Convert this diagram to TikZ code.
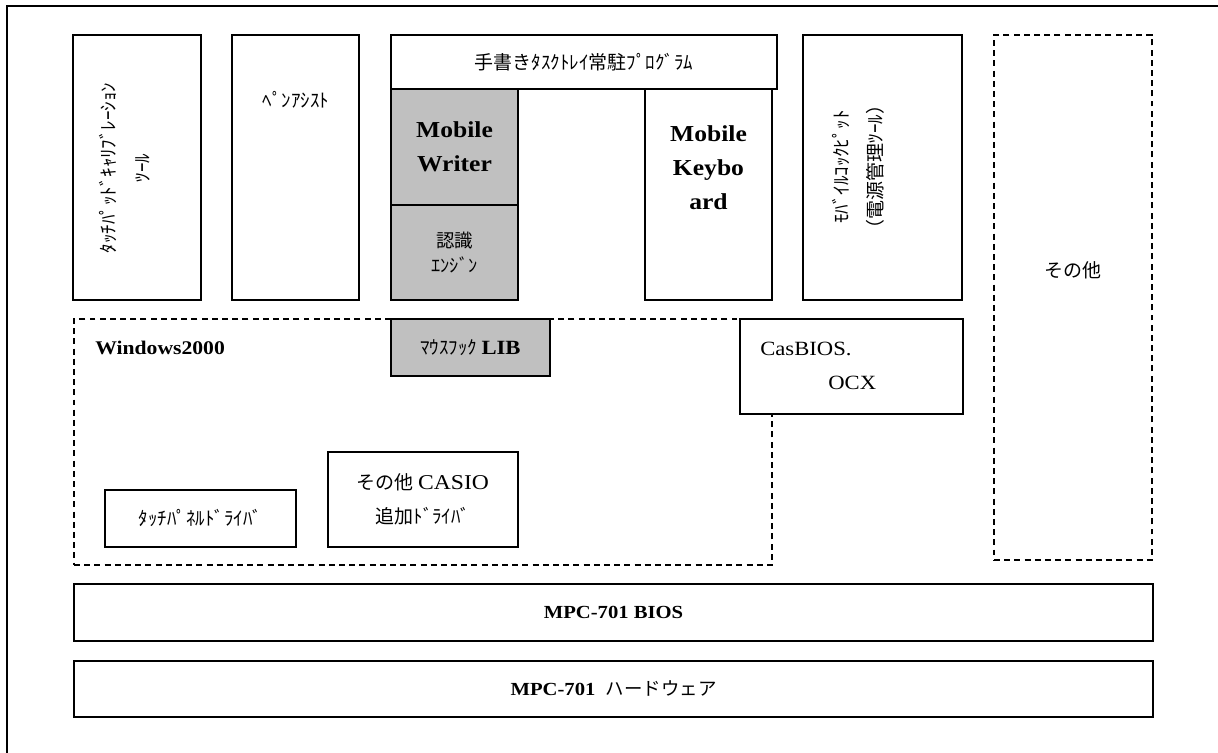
\documentclass[tikz,border=0pt]{standalone}
\usepackage{fontspec}
\setmainfont{Liberation Serif}[FakeStretch=1.12]
\newfontfamily\jp{Noto Sans CJK JP}
\usetikzlibrary{positioning}
\definecolor{boxgray}{RGB}{192,192,192}
\tikzset{
  frame/.style={line width=1pt},
  box/.style={draw, line width=0.8pt, inner sep=0pt, align=center, fill=white, font=\jp\fontsize{10.8}{19.5}\selectfont},
  greybox/.style={box, fill=boxgray},
  dashbox/.style={draw, line width=0.8pt, inner sep=0pt, dash pattern=on 3.4pt off 2.4pt},
  jtext/.style={inner sep=0pt, align=center, font=\jp\fontsize{10.8}{19.5}\selectfont},
  ltext/.style={inner sep=0pt, align=center, font=\bfseries\fontsize{13}{19.3}\selectfont},
  rtext/.style={inner sep=0pt, align=left, font=\fontsize{11.5}{19.5}\selectfont},
  biosbox/.style={box, minimum width=21.58cm, font=\bfseries\fontsize{10.5}{12}\selectfont}
}

\begin{document}
\begin{tikzpicture}[x=0.02cm,y=-0.02cm]
  \useasboundingbox (0,0) rectangle (1218,753);
  \draw[frame] (7,753) -- (7,6) -- (1218,6);

  % applications
  \node[box, minimum width=2.56cm, minimum height=5.3cm] (calib) at (137,167.5) {};
  \node[jtext, rotate=90] (calibtext) at (124.5,168) {ﾀｯﾁﾊﾟｯﾄﾞｷｬﾘﾌﾞﾚｰｼｮﾝ\\ﾂｰﾙ};
  \node[box, minimum width=2.54cm, minimum height=5.3cm] (pen) at (295.5,167.5) {};
  \node[jtext] (pentext) at (296,100) {ﾍﾟﾝｱｼｽﾄ};
  \node[box, minimum width=7.72cm, minimum height=1.08cm] (tray) at (584,62) {手書きﾀｽｸﾄﾚｲ常駐ﾌﾟﾛｸﾞﾗﾑ};
  \node[greybox, minimum width=2.54cm, minimum height=2.32cm, font=\bfseries\fontsize{13}{19.3}\selectfont] (writer) at (454.5,147) {Mobile\\Writer};
  \node[greybox, minimum width=2.54cm, minimum height=1.9cm, font=\jp\fontsize{10.5}{14}\selectfont] (engine) at (454.5,252.5) {認識\\ｴﾝｼﾞﾝ};
  \node[box, minimum width=2.54cm, minimum height=4.22cm] (keyboard) at (708.5,194.5) {};
  \node[ltext] (kbtext) at (708.5,168) {Mobile\\Keybo\\ard};
  \node[box, minimum width=3.18cm, minimum height=5.3cm] (cockpit) at (882.5,167.5) {};
  \node[jtext, rotate=90] (cockpittext) at (858,167) {ﾓﾊﾞｲﾙｺｯｸﾋﾟｯﾄ\\（電源管理ﾂｰﾙ）};
  \node[dashbox, minimum width=3.16cm, minimum height=10.5cm] (other) at (1073,297.5) {};
  \node[jtext] (othertext) at (1073,270) {その他};

  % Windows2000
  \node[dashbox, minimum width=13.96cm, minimum height=4.92cm] (win) at (423,442) {};
  \node[ltext, anchor=west, font=\bfseries\fontsize{11}{13}\selectfont] (wintext) at (95,348) {Windows2000};
  \node[greybox, minimum width=3.18cm, minimum height=1.14cm] (hook) at (470.5,347.5) {ﾏｳｽﾌｯｸ {\rmfamily\bfseries\fontsize{11.5}{12}\selectfont LIB}};
  \node[box, minimum width=4.46cm, minimum height=1.9cm] (casbios) at (851.5,366.5) {};
  \node[rtext, anchor=west] (casbiostext) at (760,366) {CasBIOS.\\\hspace*{1.36cm}OCX};
  \node[box, minimum width=3.82cm, minimum height=1.14cm] (touch) at (200.5,518.5) {ﾀｯﾁﾊﾟﾈﾙﾄﾞﾗｲﾊﾞ};
  \node[box, minimum width=3.8cm, minimum height=1.9cm] (casio) at (423,499.5) {その他 {\rmfamily\fontsize{12}{12}\selectfont CASIO}\\追加ﾄﾞﾗｲﾊﾞ};

  % BIOS and hardware
  \node[biosbox, minimum height=1.14cm] (bios) at (613.5,612.5) {MPC-701 BIOS};
  \node[biosbox, minimum height=1.12cm] (hw) at (613.5,689) {MPC-701\ \ {\jp\mdseries ハードウェア}};
\end{tikzpicture}
\end{document}
